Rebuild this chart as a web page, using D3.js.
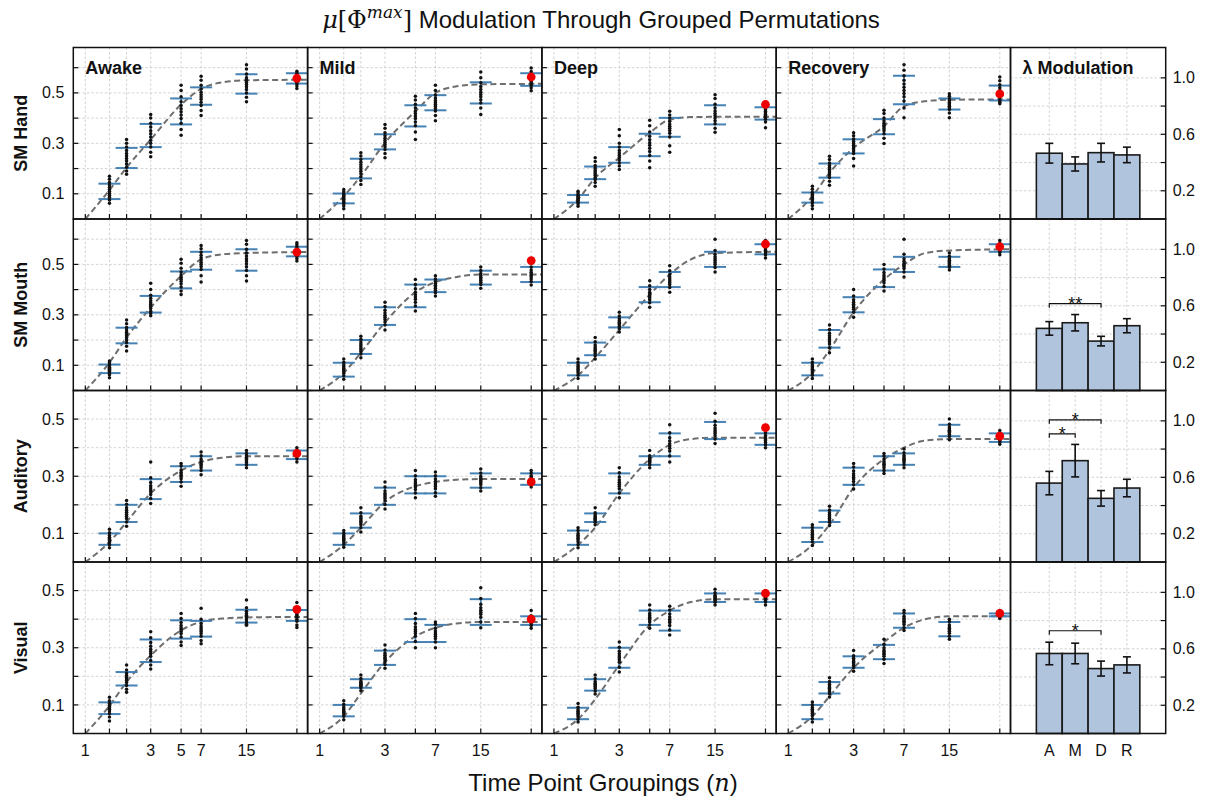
<!DOCTYPE html>
<html><head><meta charset="utf-8">
<script src="https://cdn.jsdelivr.net/npm/d3@7"></script>
<style>
body{margin:0;background:#fff}
svg{display:block}
text{font-family:"Liberation Sans",Arial,Helvetica,sans-serif;fill:#111}
</style>
</head><body>
<svg id="chart" width="1205" height="801"></svg>
<script>
// ---------------- DATA ----------------
const rowNames = ["SM Hand", "SM Mouth", "Auditory", "Visual"];
const stateNames = ["Awake", "Mild", "Deep", "Recovery"];
const groupN = [1.5, 2, 3, 5, 7, 15, 35];
const xTickVals = [1, 1.5, 2, 3, 5, 7, 15, 35];
const xTickLabelsFirst = ["1", "", "", "3", "5", "7", "15", ""];
const xTickLabelsOther = ["1", "", "", "3", "", "7", "15", ""];
const yMaxRow = [0.68, 0.68, 0.6, 0.6];
const yTickVals = [0.1, 0.2, 0.3, 0.4, 0.5, 0.6];
const yTickLabels = ["0.1", "", "0.3", "", "0.5", ""];
const curveN = [1, 1.5, 2, 3, 5, 7, 10, 15, 42];

// SM Hand
const handLo = [[0.079,0.202,0.285,0.375,0.453,0.497,0.537],[0.062,0.161,0.276,0.367,0.431,0.458,0.528],[0.065,0.158,0.223,0.249,0.326,0.375,0.394],[0.065,0.164,0.260,0.336,0.455,0.434,0.470]];
const handHi = [[0.140,0.282,0.377,0.478,0.522,0.574,0.578],[0.101,0.239,0.336,0.451,0.491,0.542,0.578],[0.095,0.208,0.285,0.338,0.401,0.451,0.443],[0.105,0.220,0.316,0.396,0.568,0.478,0.529]];
const handRed = [0.558, 0.563, 0.454, 0.496];
const handCurve = [[0,0.115,0.204,0.315,0.454,0.516,0.542,0.550,0.552],[0,0.09,0.17,0.302,0.427,0.50,0.526,0.534,0.536],[0,0.078,0.163,0.243,0.342,0.394,0.404,0.405,0.405],[0,0.09,0.183,0.282,0.368,0.447,0.467,0.473,0.474]];
const handDots = [
 [[0.170,0.158,0.145,0.135,0.125,0.117,0.110,0.102,0.094,0.086,0.075,0.062],[0.315,0.300,0.285,0.272,0.260,0.250,0.240,0.230,0.218,0.205,0.190,0.177],[0.414,0.400,0.380,0.365,0.350,0.338,0.325,0.312,0.300,0.285,0.265,0.247],[0.530,0.510,0.485,0.465,0.450,0.437,0.425,0.412,0.398,0.380,0.355,0.332],[0.566,0.550,0.530,0.515,0.503,0.493,0.484,0.475,0.463,0.450,0.430,0.410],[0.612,0.595,0.575,0.560,0.550,0.541,0.533,0.524,0.513,0.500,0.483,0.465],[0.586,0.578,0.570,0.564,0.559,0.555,0.551,0.547,0.542,0.536,0.527,0.517]],
 [[0.117,0.108,0.100,0.094,0.088,0.083,0.078,0.072,0.066,0.060,0.052,0.041],[0.263,0.250,0.236,0.225,0.215,0.206,0.198,0.189,0.179,0.168,0.153,0.137],[0.375,0.360,0.342,0.330,0.320,0.311,0.303,0.295,0.286,0.276,0.260,0.243],[0.487,0.472,0.455,0.440,0.428,0.418,0.408,0.398,0.385,0.370,0.345,0.315],[0.530,0.510,0.492,0.480,0.470,0.462,0.455,0.447,0.438,0.428,0.410,0.390],[0.583,0.560,0.540,0.525,0.513,0.503,0.494,0.485,0.473,0.460,0.440,0.414],[0.599,0.585,0.573,0.565,0.558,0.553,0.548,0.543,0.537,0.530,0.520,0.509]],
 [[0.110,0.103,0.096,0.091,0.087,0.083,0.079,0.075,0.071,0.066,0.059,0.051],[0.243,0.228,0.212,0.202,0.194,0.187,0.180,0.173,0.165,0.157,0.145,0.130],[0.355,0.330,0.300,0.285,0.272,0.262,0.253,0.244,0.234,0.222,0.210,0.196],[0.392,0.370,0.345,0.328,0.314,0.302,0.292,0.281,0.268,0.252,0.230,0.203],[0.427,0.412,0.400,0.388,0.377,0.368,0.360,0.351,0.340,0.325,0.290,0.265],[0.493,0.478,0.455,0.440,0.428,0.418,0.409,0.400,0.390,0.378,0.360,0.344],[0.454,0.448,0.441,0.434,0.427,0.421,0.415,0.409,0.403,0.396,0.385,0.362]],
 [[0.130,0.118,0.106,0.098,0.092,0.087,0.082,0.077,0.071,0.064,0.054,0.041],[0.249,0.236,0.222,0.212,0.204,0.197,0.190,0.183,0.175,0.165,0.150,0.134],[0.342,0.330,0.317,0.307,0.299,0.292,0.285,0.278,0.270,0.260,0.240,0.210],[0.431,0.418,0.400,0.389,0.380,0.372,0.365,0.358,0.350,0.338,0.320,0.299],[0.612,0.590,0.568,0.550,0.535,0.522,0.510,0.498,0.485,0.468,0.440,0.401],[0.497,0.487,0.477,0.469,0.462,0.457,0.452,0.447,0.441,0.434,0.420,0.401],[0.563,0.548,0.532,0.520,0.510,0.502,0.495,0.488,0.480,0.470,0.463,0.457]]
];

// SM Mouth
const mouthLo = [[0.069,0.187,0.309,0.405,0.479,0.475,0.532],[0.055,0.145,0.26,0.33,0.39,0.42,0.43],[0.06,0.14,0.25,0.35,0.41,0.49,0.54],[0.06,0.17,0.31,0.41,0.47,0.49,0.55]];
const mouthHi = [[0.103,0.249,0.375,0.472,0.550,0.560,0.570],[0.11,0.20,0.33,0.42,0.44,0.475,0.49],[0.11,0.19,0.29,0.41,0.47,0.55,0.58],[0.11,0.24,0.37,0.48,0.53,0.53,0.58]];
const mouthRed = [0.549, 0.515, 0.58, 0.57];
const mouthCurve = [[0,0.111,0.21,0.329,0.454,0.52,0.540,0.545,0.549],[0,0.07,0.15,0.27,0.39,0.43,0.45,0.46,0.46],[0,0.06,0.13,0.24,0.38,0.46,0.52,0.545,0.55],[0,0.07,0.16,0.31,0.44,0.50,0.545,0.555,0.56]];
const mouthDots = [
 [[0.117,0.110,0.102,0.097,0.092,0.088,0.084,0.080,0.075,0.070,0.062,0.051],[0.280,0.265,0.250,0.240,0.231,0.224,0.217,0.210,0.201,0.190,0.175,0.157],[0.425,0.400,0.378,0.366,0.356,0.348,0.341,0.334,0.325,0.314,0.305,0.296],[0.520,0.505,0.485,0.470,0.458,0.449,0.441,0.433,0.423,0.410,0.395,0.381],[0.575,0.562,0.548,0.536,0.526,0.517,0.509,0.501,0.492,0.480,0.455,0.430],[0.595,0.580,0.560,0.545,0.533,0.522,0.513,0.503,0.491,0.476,0.455,0.434],[0.586,0.578,0.570,0.563,0.557,0.552,0.548,0.544,0.539,0.532,0.523,0.513]],
 [[0.125,0.112,0.102,0.095,0.088,0.082,0.076,0.068,0.058,0.045],[0.215,0.203,0.192,0.184,0.177,0.170,0.163,0.155,0.145,0.130],[0.350,0.333,0.318,0.307,0.298,0.290,0.282,0.272,0.260,0.240],[0.440,0.420,0.403,0.390,0.380,0.371,0.362,0.350,0.335,0.315],[0.455,0.442,0.432,0.424,0.417,0.411,0.405,0.397,0.388,0.375],[0.490,0.476,0.464,0.456,0.449,0.443,0.437,0.429,0.420,0.405],[0.505,0.490,0.478,0.469,0.462,0.456,0.450,0.442,0.432,0.418]],
 [[0.125,0.112,0.102,0.095,0.089,0.083,0.077,0.070,0.060,0.048],[0.210,0.193,0.180,0.172,0.166,0.160,0.154,0.147,0.138,0.125],[0.310,0.295,0.284,0.277,0.271,0.266,0.261,0.254,0.245,0.232],[0.435,0.415,0.400,0.390,0.382,0.375,0.368,0.360,0.348,0.330],[0.495,0.475,0.460,0.450,0.442,0.435,0.428,0.420,0.408,0.390],[0.600,0.555,0.540,0.530,0.522,0.515,0.508,0.500,0.488,0.470],[0.595,0.582,0.572,0.566,0.561,0.556,0.551,0.545,0.537,0.525]],
 [[0.125,0.112,0.102,0.095,0.089,0.083,0.077,0.070,0.060,0.048],[0.260,0.242,0.227,0.217,0.209,0.201,0.193,0.184,0.170,0.150],[0.400,0.375,0.360,0.350,0.342,0.336,0.330,0.322,0.310,0.290],[0.500,0.482,0.468,0.458,0.450,0.443,0.436,0.427,0.412,0.395],[0.600,0.540,0.522,0.512,0.504,0.498,0.492,0.484,0.470,0.450],[0.545,0.532,0.522,0.516,0.511,0.507,0.503,0.497,0.489,0.478],[0.595,0.583,0.575,0.570,0.566,0.563,0.560,0.555,0.548,0.538]]
];

// Auditory
const audLo = [[0.06,0.14,0.22,0.28,0.32,0.34,0.36],[0.06,0.12,0.20,0.24,0.24,0.26,0.27],[0.06,0.14,0.24,0.34,0.37,0.43,0.41],[0.07,0.14,0.27,0.32,0.34,0.44,0.42]];
const audHi = [[0.10,0.20,0.29,0.335,0.37,0.38,0.39],[0.10,0.17,0.26,0.30,0.30,0.31,0.31],[0.11,0.17,0.31,0.37,0.45,0.49,0.45],[0.12,0.18,0.33,0.37,0.38,0.48,0.45]];
const audRed = [0.38, 0.28, 0.47, 0.44];
const audCurve = [[0,0.07,0.14,0.24,0.32,0.35,0.365,0.37,0.37],[0,0.06,0.12,0.21,0.265,0.28,0.288,0.29,0.29],[0,0.06,0.12,0.24,0.36,0.41,0.43,0.435,0.435],[0,0.06,0.13,0.26,0.36,0.40,0.425,0.43,0.43]];
const audDots = [
 [[0.115,0.102,0.093,0.087,0.082,0.078,0.074,0.068,0.060,0.050],[0.215,0.202,0.190,0.181,0.174,0.167,0.160,0.152,0.140,0.125],[0.350,0.295,0.278,0.267,0.259,0.252,0.245,0.236,0.222,0.205],[0.345,0.336,0.322,0.314,0.308,0.303,0.298,0.291,0.280,0.265],[0.385,0.372,0.360,0.353,0.347,0.342,0.337,0.330,0.320,0.305],[0.390,0.380,0.372,0.366,0.362,0.358,0.354,0.348,0.340,0.330],[0.400,0.391,0.384,0.380,0.377,0.374,0.371,0.367,0.360,0.350]],
 [[0.110,0.101,0.093,0.088,0.083,0.079,0.075,0.070,0.062,0.052],[0.190,0.172,0.160,0.153,0.147,0.142,0.137,0.130,0.120,0.105],[0.280,0.262,0.248,0.240,0.234,0.228,0.222,0.214,0.201,0.185],[0.320,0.302,0.288,0.280,0.274,0.268,0.262,0.254,0.241,0.225],[0.315,0.302,0.290,0.282,0.276,0.270,0.264,0.256,0.242,0.230],[0.325,0.311,0.300,0.293,0.288,0.283,0.278,0.271,0.260,0.248],[0.320,0.311,0.302,0.297,0.293,0.289,0.285,0.280,0.271,0.262]],
 [[0.120,0.110,0.100,0.094,0.088,0.083,0.078,0.071,0.061,0.050],[0.190,0.172,0.164,0.159,0.155,0.152,0.149,0.145,0.139,0.130],[0.330,0.312,0.297,0.287,0.279,0.272,0.265,0.256,0.241,0.225],[0.390,0.372,0.364,0.360,0.357,0.354,0.351,0.347,0.340,0.330],[0.480,0.452,0.435,0.423,0.414,0.406,0.398,0.388,0.371,0.350],[0.520,0.492,0.478,0.469,0.462,0.456,0.450,0.442,0.430,0.415],[0.470,0.452,0.443,0.437,0.432,0.428,0.424,0.418,0.410,0.400]],
 [[0.130,0.121,0.110,0.103,0.097,0.092,0.087,0.080,0.070,0.058],[0.195,0.182,0.172,0.166,0.161,0.157,0.153,0.147,0.139,0.128],[0.345,0.332,0.318,0.309,0.302,0.296,0.290,0.282,0.270,0.255],[0.380,0.371,0.360,0.353,0.347,0.342,0.337,0.330,0.320,0.310],[0.395,0.382,0.373,0.367,0.362,0.358,0.354,0.348,0.340,0.330],[0.500,0.482,0.472,0.466,0.461,0.457,0.453,0.447,0.439,0.428],[0.460,0.451,0.444,0.440,0.436,0.433,0.430,0.426,0.420,0.412]]
];

// Visual
const visLo = [[0.068,0.168,0.250,0.332,0.339,0.388,0.394],[0.06,0.16,0.24,0.32,0.32,0.38,0.38],[0.05,0.15,0.23,0.38,0.36,0.46,0.46],[0.05,0.14,0.23,0.26,0.37,0.34,0.41]];
const visHi = [[0.109,0.215,0.329,0.396,0.394,0.433,0.432],[0.10,0.19,0.29,0.40,0.38,0.47,0.41],[0.09,0.19,0.30,0.43,0.43,0.49,0.49],[0.10,0.18,0.27,0.31,0.42,0.39,0.42]];
const visRed = [0.434, 0.40, 0.49, 0.42];
const visCurve = [[0,0.097,0.180,0.273,0.361,0.391,0.402,0.406,0.408],[0,0.06,0.14,0.25,0.34,0.37,0.385,0.39,0.39],[0,0.05,0.12,0.24,0.38,0.43,0.46,0.47,0.47],[0,0.06,0.13,0.23,0.32,0.37,0.40,0.41,0.41]];
const visDots = [
 [[0.127,0.115,0.105,0.099,0.094,0.090,0.085,0.079,0.070,0.058,0.044],[0.240,0.222,0.210,0.203,0.197,0.191,0.185,0.178,0.168,0.155,0.144],[0.356,0.335,0.318,0.305,0.295,0.287,0.279,0.270,0.255,0.240,0.226],[0.420,0.402,0.388,0.378,0.370,0.364,0.358,0.350,0.338,0.320,0.308],[0.438,0.400,0.385,0.376,0.369,0.363,0.357,0.350,0.340,0.325,0.314],[0.467,0.440,0.428,0.420,0.414,0.410,0.405,0.398,0.390,0.382,0.379],[0.458,0.440,0.428,0.420,0.415,0.411,0.407,0.400,0.393,0.380,0.371]],
 [[0.115,0.102,0.093,0.087,0.082,0.078,0.074,0.068,0.060,0.048],[0.205,0.192,0.184,0.179,0.175,0.172,0.169,0.165,0.159,0.150],[0.310,0.292,0.281,0.274,0.268,0.263,0.258,0.251,0.241,0.228],[0.420,0.402,0.385,0.373,0.364,0.357,0.350,0.340,0.322,0.300],[0.390,0.382,0.368,0.359,0.352,0.346,0.340,0.332,0.320,0.300],[0.510,0.472,0.452,0.440,0.431,0.424,0.417,0.407,0.390,0.370],[0.430,0.412,0.403,0.398,0.395,0.392,0.389,0.385,0.378,0.368]],
 [[0.105,0.092,0.083,0.078,0.073,0.069,0.065,0.059,0.050,0.040],[0.205,0.192,0.182,0.176,0.171,0.167,0.163,0.157,0.149,0.138],[0.320,0.302,0.288,0.279,0.271,0.265,0.258,0.249,0.232,0.215],[0.450,0.432,0.420,0.413,0.407,0.402,0.397,0.390,0.380,0.368],[0.445,0.432,0.418,0.408,0.400,0.394,0.388,0.378,0.362,0.345],[0.505,0.492,0.484,0.479,0.475,0.472,0.469,0.465,0.459,0.450],[0.500,0.492,0.485,0.480,0.477,0.474,0.471,0.467,0.460,0.450]],
 [[0.110,0.101,0.091,0.085,0.080,0.075,0.070,0.063,0.052,0.040],[0.195,0.182,0.172,0.166,0.161,0.157,0.153,0.147,0.139,0.128],[0.290,0.272,0.263,0.257,0.252,0.248,0.244,0.238,0.230,0.218],[0.330,0.312,0.300,0.292,0.287,0.282,0.277,0.270,0.260,0.245],[0.430,0.422,0.410,0.403,0.398,0.393,0.388,0.381,0.370,0.360],[0.400,0.392,0.380,0.373,0.368,0.363,0.358,0.351,0.340,0.330],[0.430,0.423,0.419,0.417,0.415,0.414,0.413,0.411,0.408,0.402]]
];

// Lambda modulation bars
const barCats = ["A", "M", "D", "R"];
const handBar = [0.466, 0.390, 0.470, 0.454];
const handBarErr = [0.070, 0.050, 0.066, 0.055];
const mouthBar = [0.440, 0.480, 0.350, 0.459];
const mouthBarErr = [0.048, 0.058, 0.034, 0.050];
const audBar = [0.559, 0.718, 0.451, 0.524];
const audBarErr = [0.083, 0.115, 0.055, 0.062];
const visBar = [0.567, 0.567, 0.460, 0.486];
const visBarErr = [0.080, 0.073, 0.053, 0.057];
const barYMax = 1.215;
const barTickVals = [0.2, 0.4, 0.6, 0.8, 1.0];
const barTickLabels = ["0.2", "", "0.6", "", "1.0"];
const sigBrackets = [[], [["A", "D", "**", 0.615]], [["A", "M", "*", 0.908], ["A", "D", "*", 1.007]], [["A", "D", "*", 0.728]]];

// ---------------- LAYOUT ----------------
const svg = d3.select("#chart");
const colX = [73.3, 307.6, 541.9, 776.2];
const panelW = 234.3;
const barX0 = 1010.5, barX1 = 1165.7;
const rowY = [47.5, 219, 390.5, 562];
const panelH = 171.5;
const tickLen = 5;

const rowsData = [
  {lo: handLo, hi: handHi, red: handRed, curve: handCurve, dots: handDots, bar: handBar, err: handBarErr},
  {lo: mouthLo, hi: mouthHi, red: mouthRed, curve: mouthCurve, dots: mouthDots, bar: mouthBar, err: mouthBarErr},
  {lo: audLo, hi: audHi, red: audRed, curve: audCurve, dots: audDots, bar: audBar, err: audBarErr},
  {lo: visLo, hi: visHi, red: visRed, curve: visCurve, dots: visDots, bar: visBar, err: visBarErr}
];

const gridColor = "#c8c8c8";
const ebColor = "#4682b4";

rowsData.forEach((rd, r) => {
  const y0 = rowY[r];
  const y = d3.scaleLinear().domain([0, yMaxRow[r]]).range([y0 + panelH, y0]);

  stateNames.forEach((st, c) => {
    const x0 = colX[c];
    const x = d3.scaleLog().domain([0.817, 41.9]).range([x0, x0 + panelW]);
    const g = svg.append("g");
    // grid
    g.selectAll(".gx").data(xTickVals).enter().append("line")
      .attr("x1", d => x(d)).attr("x2", d => x(d)).attr("y1", y0).attr("y2", y0 + panelH)
      .attr("stroke", gridColor).attr("stroke-width", 0.8).attr("stroke-dasharray", "2.5,2");
    g.selectAll(".gy").data(yTickVals.filter(v => v < yMaxRow[r] - 0.005)).enter().append("line")
      .attr("x1", x0).attr("x2", x0 + panelW).attr("y1", d => y(d)).attr("y2", d => y(d))
      .attr("stroke", gridColor).attr("stroke-width", 0.8).attr("stroke-dasharray", "2.5,2");

    // fitted curve
    const cpts = curveN.map((n, i) => [n, rd.curve[c][i]]);
    g.append("path").datum(cpts)
      .attr("d", d3.line().x(d => x(d[0])).y(d => y(d[1])).curve(d3.curveMonotoneX))
      .attr("fill", "none").attr("stroke", "#6e6e6e").attr("stroke-width", 2)
      .attr("stroke-dasharray", "6,3.5");

    // error bars
    groupN.forEach((n, i) => {
      const xx = x(n);
      const lo = rd.lo[c][i], hi = rd.hi[c][i];
      g.append("line").attr("x1", xx).attr("x2", xx).attr("y1", y(lo)).attr("y2", y(hi))
        .attr("stroke", ebColor).attr("stroke-width", 1.8);
      [lo, hi].forEach(v => g.append("line").attr("x1", xx - 11).attr("x2", xx + 11)
        .attr("y1", y(v)).attr("y2", y(v)).attr("stroke", ebColor).attr("stroke-width", 2));
      // dots
      g.selectAll(null).data(rd.dots[c][i]).enter().append("circle")
        .attr("cx", xx).attr("cy", d => y(d)).attr("r", 1.75).attr("fill", "#111");
    });
    // red point
    g.append("circle").attr("cx", x(groupN[groupN.length - 1])).attr("cy", y(rd.red[c]))
      .attr("r", 4.4).attr("fill", "#ee0000");

    // ticks bottom (inward)
    g.selectAll(".tx").data(xTickVals).enter().append("line")
      .attr("x1", d => x(d)).attr("x2", d => x(d)).attr("y1", y0 + panelH).attr("y2", y0 + panelH - tickLen)
      .attr("stroke", "#111").attr("stroke-width", 1.2);
    // ticks left (inward)
    g.selectAll(".ty").data(yTickVals.filter(v => v <= yMaxRow[r])).enter().append("line")
      .attr("x1", x0).attr("x2", x0 + tickLen).attr("y1", d => y(d)).attr("y2", d => y(d))
      .attr("stroke", "#111").attr("stroke-width", 1.2);

    // y labels (first column)
    if (c === 0) {
      g.selectAll(".yl").data(yTickVals.map((v, i) => [v, yTickLabels[i]]).filter(d => d[1] !== "")).enter()
        .append("text").attr("x", x0 - 9).attr("y", d => y(d[0])).attr("dy", "0.35em")
        .attr("text-anchor", "end").attr("font-size", 16).text(d => d[1]);
    }
    // x labels (last row)
    if (r === 3) {
      const labs = c === 0 ? xTickLabelsFirst : xTickLabelsOther;
      g.selectAll(".xl").data(xTickVals.map((v, i) => [v, labs[i]]).filter(d => d[1] !== "")).enter()
        .append("text").attr("x", d => x(d[0])).attr("y", y0 + panelH + 22)
        .attr("text-anchor", "middle").attr("font-size", 16).text(d => d[1]);
    }
    // titles
    if (r === 0) {
      g.append("text").attr("x", x0 + 12).attr("y", y0 + 26).attr("font-size", 18)
        .attr("font-weight", "bold").text(st);
    }
    // border
    g.append("rect").attr("x", x0).attr("y", y0).attr("width", panelW).attr("height", panelH)
      .attr("fill", "none").attr("stroke", "#111").attr("stroke-width", 1.5);
  });

  // ---- bar panel ----
  const bx = d3.scaleBand().domain(barCats).range([barX0, barX1]).paddingInner(0).paddingOuter(1);
  const by = d3.scaleLinear().domain([0, barYMax]).range([y0 + panelH, y0]);
  const gb = svg.append("g");
  gb.selectAll(".gx").data(barCats).enter().append("line")
    .attr("x1", d => bx(d) + bx.bandwidth() / 2).attr("x2", d => bx(d) + bx.bandwidth() / 2)
    .attr("y1", y0).attr("y2", y0 + panelH)
    .attr("stroke", gridColor).attr("stroke-width", 0.8).attr("stroke-dasharray", "2.5,2");
  gb.selectAll(".gy").data(barTickVals).enter().append("line")
    .attr("x1", barX0).attr("x2", barX1).attr("y1", d => by(d)).attr("y2", d => by(d))
    .attr("stroke", gridColor).attr("stroke-width", 0.8).attr("stroke-dasharray", "2.5,2");
  gb.selectAll(".bar").data(barCats).enter().append("rect")
    .attr("x", d => bx(d)).attr("width", bx.bandwidth())
    .attr("y", (d, i) => by(rd.bar[i])).attr("height", (d, i) => by(0) - by(rd.bar[i]))
    .attr("fill", "#b0c4de").attr("stroke", "#1a1a1a").attr("stroke-width", 1.6);
  barCats.forEach((cat, i) => {
    const cx = bx(cat) + bx.bandwidth() / 2;
    const lo = rd.bar[i] - rd.err[i], hi = rd.bar[i] + rd.err[i];
    gb.append("line").attr("x1", cx).attr("x2", cx).attr("y1", by(lo)).attr("y2", by(hi))
      .attr("stroke", "#111").attr("stroke-width", 1.6);
    [lo, hi].forEach(v => gb.append("line").attr("x1", cx - 4).attr("x2", cx + 4)
      .attr("y1", by(v)).attr("y2", by(v)).attr("stroke", "#111").attr("stroke-width", 1.6));
  });
  // significance brackets
  sigBrackets[r].forEach(([a, b, lab, v]) => {
    const xa = bx(a) + bx.bandwidth() / 2, xb = bx(b) + bx.bandwidth() / 2, yy = by(v);
    gb.append("path").attr("d", `M${xa},${yy + 4}V${yy}H${xb}V${yy + 4}`)
      .attr("fill", "none").attr("stroke", "#111").attr("stroke-width", 1.2);
    gb.append("text").attr("x", (xa + xb) / 2).attr("y", yy + 6).attr("text-anchor", "middle")
      .attr("font-size", 18).text(lab);
  });
  // right ticks (inward) and labels
  gb.selectAll(".ty").data(barTickVals).enter().append("line")
    .attr("x1", barX1).attr("x2", barX1 - tickLen).attr("y1", d => by(d)).attr("y2", d => by(d))
    .attr("stroke", "#111").attr("stroke-width", 1.2);
  gb.selectAll(".yl").data(barTickVals.map((v, i) => [v, barTickLabels[i]]).filter(d => d[1] !== "")).enter()
    .append("text").attr("x", barX1 + 7).attr("y", d => by(d[0])).attr("dy", "0.35em")
    .attr("font-size", 16).text(d => d[1]);
  if (r === 3) {
    gb.selectAll(".xl").data(barCats).enter().append("text")
      .attr("x", d => bx(d) + bx.bandwidth() / 2).attr("y", y0 + panelH + 22)
      .attr("text-anchor", "middle").attr("font-size", 16).text(d => d);
  }
  if (r === 0) {
    gb.append("text").attr("x", barX0 + 12).attr("y", y0 + 26).attr("font-size", 18)
      .attr("font-weight", "bold").text("λ Modulation");
  }
  gb.append("rect").attr("x", barX0).attr("y", y0).attr("width", barX1 - barX0).attr("height", panelH)
    .attr("fill", "none").attr("stroke", "#111").attr("stroke-width", 1.5);

  // row label
  svg.append("text").attr("transform", `translate(27,${y0 + panelH / 2}) rotate(-90)`)
    .attr("text-anchor", "middle").attr("font-size", 18).attr("font-weight", "bold").text(rowNames[r]);
});

// Title
const title = svg.append("text").attr("x", 601).attr("y", 28).attr("text-anchor", "middle").attr("font-size", 24);
title.append("tspan").attr("font-family", "'DejaVu Serif','Liberation Serif',serif").attr("font-style", "italic").text("μ");
title.append("tspan").attr("font-family", "'DejaVu Serif','Liberation Serif',serif").text("[Φ");
title.append("tspan").attr("font-family", "'DejaVu Serif','Liberation Serif',serif").attr("font-style", "italic")
  .attr("font-size", 17).attr("dy", -10).text("max");
title.append("tspan").attr("font-family", "'DejaVu Serif','Liberation Serif',serif").attr("dy", 10).text("]");
title.append("tspan").text(" Modulation Through Grouped Permutations");

// X label
const xl = svg.append("text").attr("x", 603).attr("y", 791).attr("text-anchor", "middle").attr("font-size", 24);
xl.append("tspan").text("Time Point Groupings (");
xl.append("tspan").attr("font-family", "'DejaVu Serif','Liberation Serif',serif").attr("font-style", "italic").text("n");
xl.append("tspan").text(")");
</script>
</body></html>
